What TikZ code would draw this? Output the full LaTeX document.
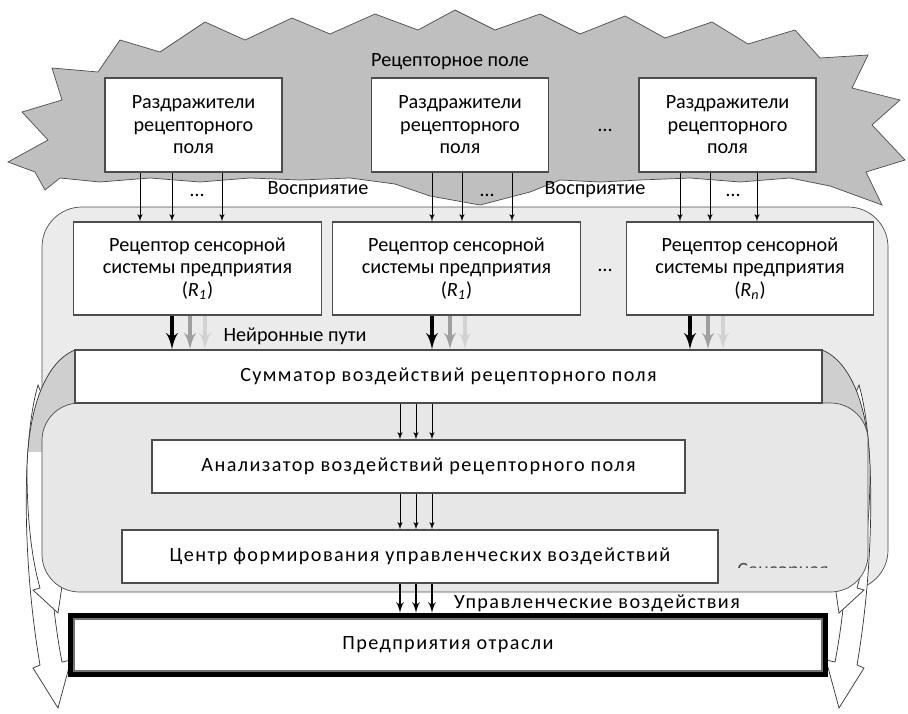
\documentclass[tikz,border=0pt]{standalone}
\usepackage{fontspec}
\setmainfont{Carlito}
\newfontfamily\spaced{Carlito}[LetterSpace=7]
\usetikzlibrary{calc, arrows, positioning}
\tikzstyle{stim}=[draw=black!70, fill=white, line width=0.8pt, minimum width=3.54cm, minimum height=1.88cm, align=center]
\tikzstyle{recep}=[draw=black!70, fill=white, line width=0.8pt, minimum width=4.95cm, minimum height=1.86cm, align=center]
\tikzstyle{block}=[draw=black!70, fill=white, line width=0.8pt, minimum height=1.06cm, align=center, font=\spaced\fontsize{11.5}{12.8}\selectfont]
\tikzstyle{ent}=[draw=black, fill=white, line width=2.8pt, minimum width=15.1cm, minimum height=1.19cm, font=\spaced\fontsize{11.5}{12.8}\selectfont]
\tikzstyle{region}=[draw=black!70, rounded corners=0.8cm]
\tikzstyle{band}=[draw=black!80, fill=white]
\tikzstyle{pass}=[->, thin]
\tikzstyle{nerve}=[->, line width=2.2pt]
\tikzstyle{ctrl}=[->, line width=1.1pt]

\begin{document}
\begin{tikzpicture}[x=0.02cm, y=-0.02cm, >=latex', font=\fontsize{11.5}{12.8}\selectfont]
  \useasboundingbox (0,0) rectangle (908,713);

  % receptive field
  \draw[black!70, fill=gray!50] (8,162) -- (48,140) -- (22,112) -- (62,100) -- (52,68) -- (98,72)
    -- (120,40) -- (160,52) -- (205,22) -- (245,40) -- (292,18) -- (330,34) -- (375,14) -- (418,30)
    -- (455,10) -- (495,30) -- (540,14) -- (580,34) -- (625,16) -- (665,38) -- (712,22) -- (748,44)
    -- (795,30) -- (820,58) -- (868,55) -- (852,88) -- (900,100) -- (872,125) -- (905,160) -- (866,172)
    -- (882,205) -- (830,186) -- (790,178) -- (740,182) -- (690,178) -- (640,180) -- (600,182)
    -- (560,180) -- (530,192) -- (480,205) -- (430,196) -- (395,184) -- (350,178) -- (300,180)
    -- (250,178) -- (200,182) -- (150,178) -- (100,182) -- (60,178) -- (45,190) -- (35,172) -- cycle;
  \node (fieldlbl) at (450,62) {Рецепторное поле};
  \node [stim] (s1) at (193.5,125) {Раздражители\\рецепторного\\поля};
  \node [stim] (s2) at (460,125) {Раздражители\\рецепторного\\поля};
  \node [stim] (s3) at (727.5,125) {Раздражители\\рецепторного\\поля};
  \node (sdots) at (605,130) {\dots};

  % sensory system
  \draw[region, fill=gray!16] (42,207) rectangle (888,590);
  \foreach \s/\o in {1/0,-1/897} {
    \begin{scope}[shift={(\o,0)}, xscale=\s]
      \draw[band] (38,385) .. controls (22,440) and (22,560) .. (40,665) -- (33,668) -- (58,708)
        -- (71,660) -- (62,662) .. controls (48,590) and (44,490) .. (52,420) -- cycle;
      \begin{scope}
        \clip (75,350) .. controls (45,362) and (28,410) .. (27,470) .. controls (27,520) and (32,560) .. (40,588)
          -- (33,590) -- (58,613) -- (62,586) .. controls (52,560) and (46,520) .. (46,470)
          .. controls (46,440) and (58,415) .. (75,403) -- cycle;
        \fill[white] (0,340) rectangle (110,620);
        \fill[gray!38] (0,340) rectangle (110,452);
      \end{scope}
      \draw[black!80] (75,350) .. controls (45,362) and (28,410) .. (27,470) .. controls (27,520) and (32,560) .. (40,588)
        -- (33,590) -- (58,613) -- (62,586) .. controls (52,560) and (46,520) .. (46,470)
        .. controls (46,440) and (58,415) .. (75,403);
    \end{scope}
  }
  \draw[region, fill=gray!19, rounded corners=0.75cm] (42,403) rectangle (868,592);

  \node [recep] (r1) at (197.5,268.5) {Рецептор сенсорной\\системы предприятия\\(\textit{R}\textsubscript{\textit{1}})};
  \node [recep] (r2) at (456.5,268.5) {Рецептор сенсорной\\системы предприятия\\(\textit{R}\textsubscript{\textit{1}})};
  \node [recep] (r3) at (750,268.5) {Рецептор сенсорной\\системы предприятия\\(\textit{R}\textsubscript{\textit{n}})};
  \node (rdots) at (605,270) {\dots};
  \node [block, minimum width=14.94cm] (sum) at (448.5,376.5) {Сумматор воздействий рецепторного поля};
  \node [block, minimum width=10.66cm] (ana) at (418.5,466.5) {Анализатор воздействий рецепторного поля};
  \node [block, minimum width=11.92cm] (ctr) at (420,556.5) {Центр формирования управленческих воздействий};
  \begin{scope}
    \clip (720,560) rectangle (850,567);
    \node [anchor=north, inner sep=0pt, text=black!70] (sens) at (783,563) {Сенсорная};
  \end{scope}
  \node [ent] (ent) at (448,645) {Предприятия отрасли};
  \draw[black!55, line width=1pt] ([shift={(6,6)}]ent.north west) rectangle ([shift={(-6,-6)}]ent.south east);

  % labels
  \node (perc1) at (318,190) {Восприятие};
  \node (perc2) at (595,190) {Восприятие};
  \node (pdots1) at (197,195) {\dots};
  \node (pdots2) at (487,195) {\dots};
  \node (pdots3) at (733,195) {\dots};
  \node (nerves) at (295,336) {Нейронные пути};
  \node [font=\spaced\fontsize{11.5}{12.8}\selectfont] (ctrllbl) at (597,603) {Управленческие воздействия};

  % connections
  \foreach \x in {140,172,222} \draw[pass] (\x,0 |- s1.south) -- (\x,0 |- r1.north);
  \foreach \x in {432,462,512} \draw[pass] (\x,0 |- s2.south) -- (\x,0 |- r2.north);
  \foreach \x in {680,710,757} \draw[pass] (\x,0 |- s3.south) -- (\x,0 |- r3.north);
  \foreach \n/\x in {1/172, 2/432, 3/690} {
    \draw[nerve, gray!35] (\x+33,0 |- r\n.south) -- (\x+33,0 |- sum.north);
    \draw[nerve, gray!75] (\x+18,0 |- r\n.south) -- (\x+18,0 |- sum.north);
    \draw[nerve, black] (\x,0 |- r\n.south) -- (\x,0 |- sum.north);
  }
  \foreach \x in {400,416,432} {
    \draw[pass] (\x,0 |- sum.south) -- (\x,0 |- ana.north);
    \draw[pass] (\x,0 |- ana.south) -- (\x,0 |- ctr.north);
    \draw[ctrl] (\x,0 |- ctr.south) -- (\x,0 |- ent.north);
  }
\end{tikzpicture}
\end{document}
